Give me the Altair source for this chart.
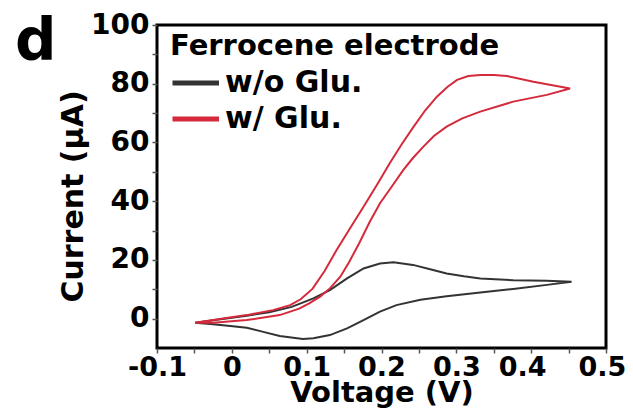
import altair as alt
import pandas as pd

# ---- data (Voltage in V, Current in uA), in scan order ----
series_names = ["w/o Glu.", "w/ Glu."]
series_colors = ["#333333", "#d42a3c"]

black_v = [-0.049, -0.02, 0.02, 0.05, 0.08, 0.109, 0.131, 0.154, 0.176, 0.198, 0.216,
           0.242, 0.265, 0.287, 0.31, 0.332, 0.376, 0.421, 0.454,
           0.421, 0.376, 0.332, 0.287, 0.252, 0.220, 0.198, 0.176, 0.154, 0.131, 0.109,
           0.095, 0.064, 0.042, 0.020, -0.002, -0.025, -0.049]
black_i = [-1.4, -0.4, 1.0, 2.2, 4.0, 6.9, 9.7, 13.7, 17.1, 18.8, 19.2,
           18.3, 16.8, 15.4, 14.4, 13.7, 13.1, 12.9, 12.6,
           11.5, 10.1, 8.9, 7.6, 6.4, 4.6, 2.4, -0.5, -3.3, -5.6, -6.7,
           -6.9, -5.9, -4.5, -3.1, -2.5, -1.9, -1.4]

red_v = [-0.049, -0.016, 0.020, 0.055, 0.078, 0.092, 0.108, 0.124, 0.140, 0.158, 0.176,
         0.194, 0.211, 0.227, 0.243, 0.258, 0.274, 0.288, 0.301, 0.316, 0.332, 0.350,
         0.368, 0.403, 0.452,
         0.421, 0.376, 0.332, 0.308, 0.287, 0.270, 0.256, 0.242, 0.229, 0.214, 0.198,
         0.184, 0.170, 0.157, 0.145, 0.131, 0.118, 0.104, 0.090, 0.064, 0.020, -0.025, -0.049]
red_i = [-1.4, -0.1, 1.2, 2.9, 4.6, 6.6, 10.2, 16.2, 23.4, 30.8, 38.1,
         45.6, 52.9, 59.4, 65.4, 70.8, 75.6, 78.9, 81.3, 82.6, 83.0, 83.0,
         82.6, 80.7, 78.4,
         76.2, 73.9, 70.5, 68.2, 65.4, 62.2, 58.6, 54.7, 50.6, 45.1, 39.3,
         32.8, 25.6, 19.4, 14.3, 10.3, 7.5, 5.3, 3.4, 1.2, -0.5, -1.4, -1.4]

x_tick_values = [-0.1, -0.05, 0.0, 0.05, 0.1, 0.15, 0.2, 0.25, 0.3, 0.35, 0.4, 0.45, 0.5]
x_tick_labels = ["-0.1", "0", "0.1", "0.2", "0.3", "0.4", "0.5"]
y_tick_values = [0, 10, 20, 30, 40, 50, 60, 70, 80, 90, 100]

rows = []
for name, vs, cs in [(series_names[0], black_v, black_i), (series_names[1], red_v, red_i)]:
    for k, (v, c) in enumerate(zip(vs, cs)):
        rows.append({"series": name, "V": v, "I": c, "k": k})
df = pd.DataFrame(rows)

FONT = "DejaVu Sans"
lab_list = "[" + ",".join("'%s'" % s for s in x_tick_labels) + "]"
x_label_expr = ("abs(round(datum.value*100)) % 10 == 0 ? "
                + lab_list + "[round((datum.value+0.1)*10)] : ''")

x_label_offset = {
    "condition": [
        {"test": "abs(datum.value - 0.4) < 0.01", "value": -9},
        {"test": "datum.value > 0.47", "value": -4},
    ],
    "value": 0,
}

chart = alt.Chart(df).mark_line(strokeWidth=2).encode(
    x=alt.X("V:Q",
            scale=alt.Scale(domain=[-0.1, 0.5], nice=False, zero=False),
            axis=alt.Axis(title="Voltage (V)", values=x_tick_values, labelExpr=x_label_expr,
                          domain=False, grid=False, tickSize=5, tickWidth=1.5, tickColor="#555555",
                          labelFont=FONT, labelFontSize=27, labelFontWeight="bold", labelColor="black",
                          labelPadding=1, labelFlush=False, labelOverlap=False,
                          labelOffset=x_label_offset,
                          titleFont=FONT, titleFontSize=29, titleFontWeight="bold", titleColor="black",
                          titlePadding=-2)),
    y=alt.Y("I:Q",
            scale=alt.Scale(domain=[-10, 100], nice=False, zero=False),
            axis=alt.Axis(title="Current (μA)", values=y_tick_values,
                          labelExpr="datum.value % 20 == 0 ? datum.label : ''",
                          domain=False, grid=False, tickSize=5, tickWidth=1.5, tickColor="#555555",
                          labelFont=FONT, labelFontSize=28, labelFontWeight="bold", labelColor="black",
                          labelPadding=3, labelFlush=False, labelOverlap=False,
                          titleFont=FONT, titleFontSize=30, titleFontWeight="bold", titleColor="black",
                          titlePadding=2, titleY=171)),
    color=alt.Color("series:N",
                    scale=alt.Scale(domain=series_names, range=series_colors),
                    legend=alt.Legend(title="Ferrocene electrode", orient="none",
                                      legendX=13, legendY=7, padding=0,
                                      titleFont=FONT, titleFontSize=29, titleFontWeight="bold",
                                      titleColor="black", titlePadding=4, titleLimit=600,
                                      labelFont=FONT, labelFontSize=30, labelFontWeight="bold",
                                      labelColor="black", labelOffset=19, labelLimit=400,
                                      symbolType="M-1,0H2", symbolStrokeWidth=5, symbolSize=961,
                                      clipHeight=36, rowPadding=0)),
    order="k:Q",
).properties(
    width=449, height=323,
    autosize=alt.AutoSizeParams(type="none"),
    padding={"left": 149, "top": 17, "right": 19, "bottom": 62},
    title=alt.TitleParams(text="d", anchor="start", frame="group", orient="none",
                          font=FONT, fontSize=58, fontWeight="bold", color="black",
                          dx=-142, dy=35, baseline="alphabetic"),
).configure_view(stroke="black", strokeWidth=3)

chart.save("out.html", embed_options={"renderer": "svg", "actions": False})
